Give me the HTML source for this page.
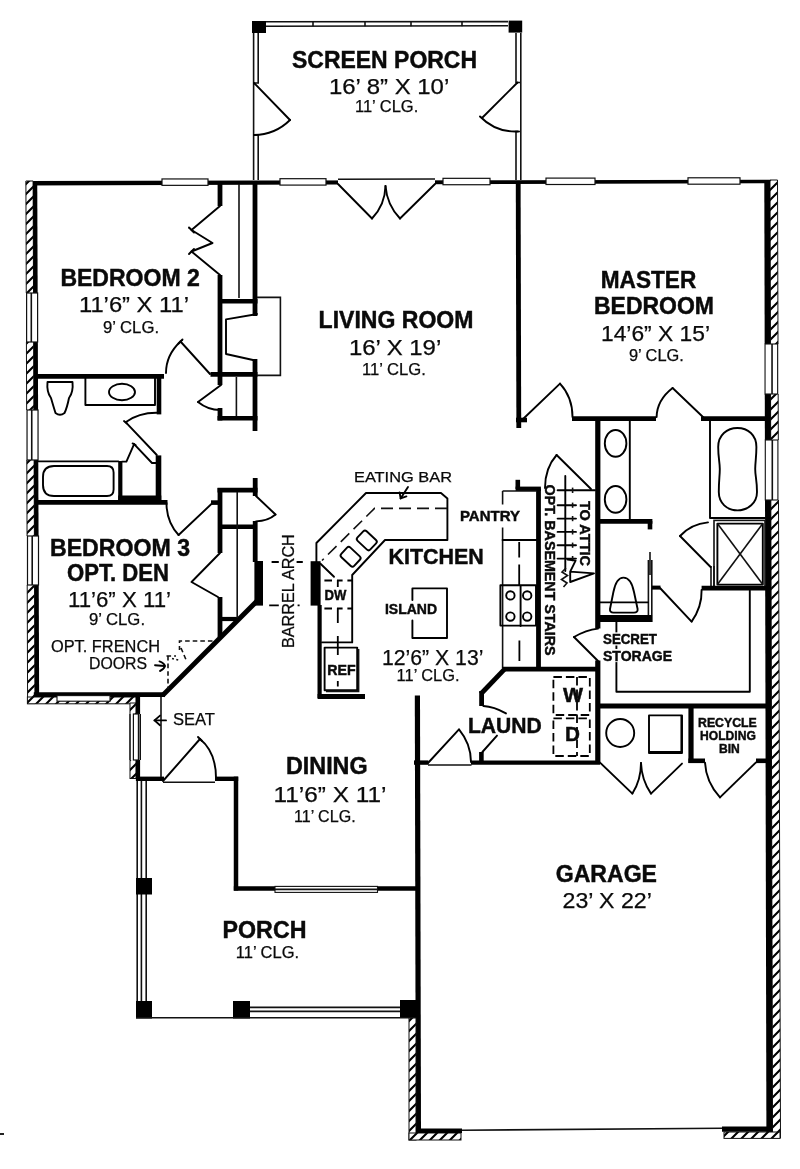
<!DOCTYPE html>
<html lang="en">
<head>
<meta charset="utf-8">
<title>Floor Plan</title>
<style>
html,body{margin:0;padding:0;background:#fff;}
body{width:800px;height:1169px;overflow:hidden;}
svg{display:block;filter:grayscale(1);}
.w line{stroke:#000;}
.k{fill:#000;stroke:none;}
.t{fill:none;stroke:#111;stroke-width:1.6;}
.d{fill:none;stroke:#000;stroke-width:1.9;stroke-linejoin:round;stroke-linecap:round;}
.dw{fill:none;stroke:#000;stroke-width:1.8;}
.tx text{font-family:"Liberation Sans",sans-serif;fill:#0a0a0a;}
.b{font-weight:700;stroke:#0a0a0a;stroke-width:0.45;}
.r{font-weight:400;stroke:#0a0a0a;stroke-width:0.25;}
</style>
</head>
<body>
<svg width="800" height="1169" viewBox="0 0 800 1169">
<defs>
<pattern id="h" patternUnits="userSpaceOnUse" width="10" height="10">
<rect width="10" height="10" fill="#fff"/>
<path d="M-2 2 L2 -2 M0 10 L10 0 M8 12 L12 8" stroke="#000" stroke-width="2.1"/>
</pattern>
</defs>
<rect width="800" height="1169" fill="#fff"/>
<g class="w">
<rect x="252" y="21" width="14" height="12" class="k"/>
<rect x="508.6" y="20.6" width="13.6" height="12" class="k"/>
<path d="M266 21.8 L508 21.6" class="t"/>
<path d="M266 26.2 L508 25.8" class="t"/>
<path d="M313 21.8 L313 26.2" class="t"/>
<path d="M365 21.8 L365 26.2" class="t"/>
<path d="M411 21.8 L411 26.2" class="t"/>
<path d="M462 21.8 L462 26.2" class="t"/>
<path d="M253.6 33 L253.6 180" class="t"/>
<path d="M258.2 33 L258.2 83 L254 83" class="t"/>
<path d="M258.2 180 L258.2 135 L254 135" class="t"/>
<path d="M254 83 L290 120" class="d"/>
<path d="M290 120 A52 52 0 0 1 254 135" class="d"/>
<path d="M520.8 33 L520.8 180" class="t"/>
<path d="M516 33 L516 82.5 L521 82.5" class="t"/>
<path d="M516 180 L516 131.5 L521 131.5" class="t"/>
<path d="M517.5 82.5 L482 118" class="d"/>
<path d="M480 116.5 A50 50 0 0 0 518 131.5" class="d"/>
<path d="M25.9 180.9 L770 179.8 L770 183.3 L25.9 185.4 Z" fill="#000"/>
<rect x="162" y="178.95" width="46" height="6.4" fill="#fff" stroke="#111" stroke-width="1.2"/>
<rect x="280" y="178.69" width="46" height="6.4" fill="#fff" stroke="#111" stroke-width="1.2"/>
<rect x="443" y="178.33" width="47" height="6.4" fill="#fff" stroke="#111" stroke-width="1.2"/>
<rect x="546" y="178.10" width="49" height="6.4" fill="#fff" stroke="#111" stroke-width="1.2"/>
<rect x="688" y="177.79" width="52" height="6.4" fill="#fff" stroke="#111" stroke-width="1.2"/>
<rect x="338" y="178" width="97" height="8" fill="#fff" stroke="none"/>
<path d="M338 179.2 L435 179" class="t"/>
<path d="M338 184 L372 218.5" class="d"/>
<path d="M435 184 L400 218.5" class="d"/>
<path d="M372 218.5 Q385 205 385.5 186" class="d"/>
<path d="M400 218.5 Q387 205 385.5 186" class="d"/>
<path d="M25.9 181 L33.1 181 L35 703.6 L27.6 703.6 Z" fill="url(#h)" stroke="#111" stroke-width="1"/>
<line x1="35.1" y1="181.5" x2="37" y2="697" stroke-width="4.3" stroke-linecap="butt"/>
<rect x="24.90505" y="293" width="14.6" height="49" fill="#fff" stroke="none"/>
<rect x="26.61" y="293" width="11" height="49" fill="#fff" stroke="#111" stroke-width="1.2"/>
<path d="M31.30505 293 L31.30505 342" class="t"/>
<rect x="25.3398" y="410" width="14.6" height="50" fill="#fff" stroke="none"/>
<rect x="27.04" y="410" width="11" height="50" fill="#fff" stroke="#111" stroke-width="1.2"/>
<path d="M31.739800000000002 410 L31.739800000000002 460" class="t"/>
<rect x="25.80415" y="536" width="14.6" height="49" fill="#fff" stroke="none"/>
<rect x="27.50" y="536" width="11" height="49" fill="#fff" stroke="#111" stroke-width="1.2"/>
<path d="M32.20415 536 L32.20415 585" class="t"/>
<path d="M770 180 L777.5 180 L780.5 1138 L772.5 1138 Z" fill="url(#h)" stroke="#111" stroke-width="1"/>
<path d="M764.3 180 L770 180 L772.6 1132 L766.4 1132 Z" fill="#000" stroke="none"/>
<rect x="763.9428" y="344" width="15" height="50" fill="#fff" stroke="none"/>
<rect x="765.0428" y="344" width="12.6" height="50" fill="#fff" stroke="#111" stroke-width="1.1"/>
<path d="M772.0428 344 L772.0428 394" class="t"/>
<rect x="764.202" y="440" width="15" height="60" fill="#fff" stroke="none"/>
<rect x="765.302" y="440" width="12.6" height="60" fill="#fff" stroke="#111" stroke-width="1.1"/>
<path d="M772.302 440 L772.302 500" class="t"/>
<rect x="27.4" y="697" width="108.6" height="6.8" fill="url(#h)" stroke="#111" stroke-width="1"/>
<line x1="33.8" y1="694.6" x2="165" y2="694.6" stroke-width="4.6" stroke-linecap="butt"/>
<rect x="57" y="695.6" width="53" height="5.6" fill="#fff" stroke="#111" stroke-width="1.1"/>
<rect x="130" y="703" width="6" height="75.5" fill="url(#h)" stroke="#111" stroke-width="1"/>
<line x1="138" y1="697" x2="138" y2="781" stroke-width="4.2" stroke-linecap="butt"/>
<rect x="129" y="714" width="12" height="46" fill="#fff" stroke="none"/>
<rect x="133.4" y="714" width="5" height="46" fill="#fff" stroke="#111" stroke-width="1.2"/>
<path d="M130 714 L130 760" class="t"/>
<path d="M140.2 714 L140.2 760" class="t"/>
<line x1="136" y1="778.8" x2="164" y2="778.8" stroke-width="4.4" stroke-linecap="butt"/>
<path d="M161 697 L161 777" class="t"/>
<line x1="162.5" y1="695.5" x2="259" y2="599" stroke-width="4.8" stroke-linecap="butt"/>
<line x1="215" y1="778.8" x2="238.2" y2="778.8" stroke-width="4.4" stroke-linecap="butt"/>
<line x1="236" y1="776.6" x2="236" y2="890.6" stroke-width="4.5" stroke-linecap="butt"/>
<line x1="233.8" y1="888.4" x2="420" y2="888.4" stroke-width="4.5" stroke-linecap="butt"/>
<rect x="275" y="886.4" width="102.5" height="6" fill="#fff" stroke="#111" stroke-width="1.1"/>
<path d="M275 889.4 L377 889.4" class="t"/>
<path d="M163 781 L200 739" class="d"/>
<path d="M200 739 Q216 752 216 778" class="d"/>
<path d="M163 782.2 L215 782.2" class="t"/>
<path d="M198 737 L202 741" class="d"/>
<path d="M137.2 781 L137.2 1017" class="t"/>
<path d="M141.4 781 L141.4 1017" class="t"/>
<path d="M146.2 781 L146.2 1017" class="t"/>
<rect x="136" y="878" width="16" height="16.5" class="k"/>
<rect x="136" y="1001" width="16" height="17.5" class="k"/>
<rect x="233" y="1001" width="17" height="17.5" class="k"/>
<rect x="400" y="1000" width="16" height="17.5" class="k"/>
<path d="M136 1017.8 L416 1017.8" class="t"/>
<path d="M250 1007.4 L400 1007.4" class="t"/>
<path d="M250 1011.4 L400 1011.4" class="t"/>
<line x1="417.4" y1="695.6" x2="418.4" y2="1133" stroke-width="5.2" stroke-linecap="butt"/>
<rect x="409" y="1018" width="7" height="122" fill="url(#h)" stroke="#111" stroke-width="1"/>
<rect x="409" y="1133" width="52" height="7" fill="url(#h)" stroke="#111" stroke-width="1"/>
<line x1="416" y1="1130.8" x2="462" y2="1130.8" stroke-width="4.6" stroke-linecap="butt"/>
<path d="M462 1130.2 L722 1128.2" class="t"/>
<line x1="722" y1="1129.2" x2="772" y2="1129.2" stroke-width="5.2" stroke-linecap="butt"/>
<rect x="724" y="1132" width="56" height="6.4" fill="url(#h)" stroke="#111" stroke-width="1"/>
<line x1="220" y1="184" x2="220" y2="206" stroke-width="4.8" stroke-linecap="butt"/>
<line x1="220" y1="275" x2="220" y2="385" stroke-width="4.8" stroke-linecap="butt"/>
<line x1="255" y1="184" x2="255" y2="316" stroke-width="4.8" stroke-linecap="butt"/>
<line x1="255" y1="359" x2="255" y2="431" stroke-width="4.8" stroke-linecap="butt"/>
<line x1="220" y1="301.2" x2="257.5" y2="301.2" stroke-width="4.6" stroke-linecap="butt"/>
<line x1="210.5" y1="374.4" x2="257.5" y2="374.4" stroke-width="4.8" stroke-linecap="butt"/>
<path d="M239 184 L239 298" class="t"/>
<path d="M220 206 L191.5 230 L212.5 243 L191.5 251.5 L220 275" class="d"/>
<path d="M189 227.5 L194 232.5" class="d"/>
<path d="M189 254 L194 249" class="d"/>
<path d="M257 314 L226 319.4 L226 354 L253 360" class="d"/>
<path d="M257 297.4 L280.4 297.4 L280.4 375.4 L257 375.4" class="t"/>
<line x1="220" y1="408" x2="220" y2="420.5" stroke-width="4.8" stroke-linecap="butt"/>
<line x1="217.5" y1="418.2" x2="257.5" y2="418.2" stroke-width="4.6" stroke-linecap="butt"/>
<path d="M236.4 377 L236.4 416" class="t"/>
<path d="M221 385 L198 402" class="d"/>
<path d="M198 402 Q208 410 220 410" class="d"/>
<path d="M210 374 L180.5 341.5" class="d"/>
<path d="M180.5 341.5 Q166 355 166 373" class="d"/>
<path d="M178.5 343.5 L182.5 339.5" class="d"/>
<line x1="37" y1="376.4" x2="164" y2="376.4" stroke-width="4.6" stroke-linecap="butt"/>
<line x1="159" y1="374.2" x2="159" y2="414.4" stroke-width="4.6" stroke-linecap="butt"/>
<line x1="158.5" y1="455.4" x2="158.5" y2="503" stroke-width="5.6" stroke-linecap="butt"/>
<line x1="37" y1="502.3" x2="167.5" y2="502.3" stroke-width="4.8" stroke-linecap="butt"/>
<rect x="118.2" y="495.5" width="43.1" height="5" class="k"/>
<line x1="120.3" y1="461" x2="120.3" y2="500" stroke-width="4.2" stroke-linecap="butt"/>
<path d="M47.5 382 L72.5 382 Q73.5 392 69 398 Q67 408 64.5 413 Q60 416.5 55.5 413 Q53 405 51 398 Q46.5 392 47.5 382 Z" class="d"/>
<path d="M85.4 378 L85.4 405 L155 405 L155 378" class="d"/>
<ellipse cx="122" cy="392" rx="13" ry="8.2" class="d"/>
<path d="M156.8 455 L125.6 422.2" class="d"/>
<path d="M125.6 422.2 Q139 412.6 157 412.8" class="d"/>
<path d="M124 421 L127 423.4" class="d"/>
<path d="M134.1 444.2 L126.4 461.6 L122 461.6" class="d"/>
<path d="M134.1 444.2 L152 463 L156.5 463" class="d"/>
<path d="M132.6 443.4 L135.6 445" class="d"/>
<path d="M37 461.4 L118.4 461.4" class="d"/>
<path d="M54 466 L107 466 Q113.6 466 113.6 472.5 L113.6 489.5 Q113.6 496 107 496 L54 496 Q43 496 43 485 L43 477 Q43 466 54 466 Z" class="d"/>
<line x1="217.5" y1="490.2" x2="257.5" y2="490.2" stroke-width="4.8" stroke-linecap="butt"/>
<line x1="220" y1="488" x2="220" y2="553" stroke-width="4.8" stroke-linecap="butt"/>
<line x1="220" y1="597" x2="220" y2="637" stroke-width="4.8" stroke-linecap="butt"/>
<line x1="255.2" y1="478" x2="255.2" y2="496" stroke-width="4.8" stroke-linecap="butt"/>
<line x1="255.2" y1="521" x2="255.2" y2="562" stroke-width="4.8" stroke-linecap="butt"/>
<line x1="220" y1="526.8" x2="257" y2="526.8" stroke-width="4.6" stroke-linecap="butt"/>
<line x1="220" y1="619" x2="238" y2="619" stroke-width="4.2" stroke-linecap="butt"/>
<path d="M237.2 492 L237.2 618" class="t"/>
<rect x="254.4" y="561" width="8.6" height="44.6" class="k"/>
<rect x="310.6" y="561.2" width="10" height="44.4" class="k"/>
<line x1="211" y1="502.6" x2="218" y2="502.6" stroke-width="4.6" stroke-linecap="butt"/>
<path d="M213 502.5 L178.6 535" class="d"/>
<path d="M178.6 535 Q166.5 522 166.5 503" class="d"/>
<path d="M256 496 L275.5 514.5" class="d"/>
<path d="M275.5 514.5 Q268 521 256 521.4" class="d"/>
<path d="M220 553 L191.5 582 L218 597" class="d"/>
<path d="M271.6 562 L278.8 562 M296.6 562 L302.8 562 M269.2 605.4 L278.8 605.4 M297.6 605.4 L299.6 605.4" class="dw"/>
<path d="M212.5 641 L179.5 641 L179.5 650 M181 648 L187 662 M166.5 656 L176 656 M168 656 L168 689" class="t" stroke-dasharray="4.6 3" stroke-width="1.7"/>
<path d="M172 658.5 L180 660.5" class="t" stroke-dasharray="2 2.4" stroke-width="1.7"/>
<path d="M155 665.2 L164.5 666" class="d"/>
<path d="M159.5 661.4 Q164 663 165 666 Q164 669.4 160 671" class="d"/>
<path d="M154.5 720.4 L166 720.4" class="d"/>
<path d="M160 715.6 L154.5 720.4 L160 725.2" class="d"/>
<line x1="319.6" y1="605" x2="319.6" y2="698" stroke-width="4.2" stroke-linecap="butt"/>
<line x1="317.6" y1="696.4" x2="365" y2="696.4" stroke-width="5" stroke-linecap="butt"/>
<path d="M316.4 562 L316.4 543 L366 493 L441 493 L447.4 498.5 L447.4 540 L385 540 L352.2 575 L352.2 642.4 L322 642.4" class="d"/>
<path d="M447 508.4 L374.5 508.4 L322 560.5" class="t" stroke-dasharray="12 6" stroke-width="1.5"/>
<rect x="-8.8" y="-6.6" width="17.6" height="13.2" rx="2.4" class="d" transform="translate(366.8 540.4) rotate(43)"/>
<rect x="-8.8" y="-6.6" width="17.6" height="13.2" rx="2.4" class="d" transform="translate(350.6 556.8) rotate(43)"/>
<path d="M320.5 563.8 L334 576.8" class="d"/>
<path d="M324.4 580.5 L332 580.5 M337 580.5 L342.6 580.5 M347.4 580.5 L352 580.5" class="dw"/>
<path d="M324.4 608.5 L332 608.5 M337 608.5 L342.6 608.5 M347.4 608.5 L352 608.5" class="dw"/>
<path d="M337.8 580 L337.8 587 M337.8 608 L337.8 623 M337.8 636 L337.8 655 M337.8 681 L337.8 686.6" class="dw"/>
<rect x="324.6" y="647.6" width="32.6" height="42.6" class="d"/>
<path d="M358.6 649 L358.6 691.4 L326 691.4" class="t"/>
<path d="M412.4 600 L412.4 588.4 L447 588.4 L447 638 L412.4 638 L412.4 620.5" class="d"/>
<path d="M408 487 L400.6 498.4" class="d"/>
<path d="M399.6 492.4 L400.6 498.4 L406.4 496.4" class="d"/>
<line x1="538.5" y1="488.6" x2="538.5" y2="669.6" stroke-width="4.8" stroke-linecap="butt"/>
<line x1="515.6" y1="488.8" x2="540.9" y2="488.8" stroke-width="4.4" stroke-linecap="butt"/>
<line x1="517.8" y1="479.8" x2="517.8" y2="489" stroke-width="4.6" stroke-linecap="butt"/>
<path d="M502.6 491 L536.6 491" class="t"/>
<path d="M502.6 491 L502.6 668.4" class="t"/>
<path d="M502.6 540 L536.6 540" class="d"/>
<path d="M519.2 542 L519.2 557.6 M519.2 564.6 L519.2 585 M519.4 640.4 L519.4 661" class="dw"/>
<rect x="500.4" y="585.2" width="35.6" height="40.4" fill="#fff" class="d"/>
<circle cx="510.4" cy="595.4" r="4.2" class="d"/>
<circle cx="510.4" cy="616.6" r="4.2" class="d"/>
<circle cx="527.2" cy="595.4" r="4.2" class="d"/>
<circle cx="527.2" cy="616.6" r="4.2" class="d"/>
<path d="M520.6 586 L520.6 626" class="d"/>
<path d="M565.3 476 L565.3 571" class="d"/>
<path d="M557.6 490.3 L595 490.3" class="d"/>
<path d="M557.6 505.2 L576 505.2" class="d"/>
<path d="M572.6 502.59999999999997 L572.6 507.8" class="t"/>
<path d="M557.6 518.6 L576 518.6" class="d"/>
<path d="M572.6 516.0 L572.6 521.2" class="t"/>
<path d="M557.6 531.9 L576 531.9" class="d"/>
<path d="M572.6 529.3 L572.6 534.5" class="t"/>
<path d="M557.6 545.2 L576 545.2" class="d"/>
<path d="M572.6 542.6 L572.6 547.8000000000001" class="t"/>
<path d="M557.6 558.6 L576 558.6" class="d"/>
<path d="M572.6 556.0 L572.6 561.2" class="t"/>
<path d="M572.6 487.6 L572.6 493" class="t"/>
<path d="M566 568 L562 572 L567.5 575.5 L561.5 579.5 L567 583 L563.5 587" class="t"/>
<path d="M567.5 559.5 L575.6 560.6 L570.2 571.6 L570.2 582 L594 573.4 L570.2 571.6" class="d"/>
<path d="M591 489 L556.6 455" class="d"/>
<path d="M556.6 455 Q545 468 545 488" class="d"/>
<line x1="518.2" y1="183" x2="518.8" y2="428" stroke-width="4.8" stroke-linecap="butt"/>
<line x1="516" y1="420" x2="527" y2="420" stroke-width="4.6" stroke-linecap="butt"/>
<path d="M522 420 L560 383.6" class="d"/>
<path d="M560 383.6 Q572.5 397 572.5 417" class="d"/>
<line x1="572" y1="418.6" x2="656" y2="418.6" stroke-width="4.6" stroke-linecap="butt"/>
<line x1="701" y1="418.6" x2="768" y2="418.6" stroke-width="4.6" stroke-linecap="butt"/>
<path d="M656.6 417 Q657 400 672.6 388" class="d"/>
<path d="M672.6 388 L703.5 417.5" class="d"/>
<line x1="597.8" y1="418.6" x2="597.8" y2="628.4" stroke-width="5.2" stroke-linecap="butt"/>
<line x1="597.8" y1="660.5" x2="597.8" y2="764" stroke-width="5.2" stroke-linecap="butt"/>
<path d="M629.8 421 L629.8 519.4" class="d"/>
<ellipse cx="615.6" cy="443.4" rx="10.8" ry="13.4" class="d"/>
<ellipse cx="615.6" cy="499.4" rx="10.8" ry="13.4" class="d"/>
<line x1="598" y1="521.4" x2="652.4" y2="521.4" stroke-width="4.6" stroke-linecap="butt"/>
<line x1="650" y1="521" x2="650" y2="529.4" stroke-width="4.6" stroke-linecap="butt"/>
<path d="M710 421 L710 518 L765 518" class="d"/>
<path d="M737.4 428 C748 428 756.4 435 756.4 447 C756.4 458 755.2 462 755.2 469 C755.2 476 757 480 757 492 C757 503 748 510.4 737.6 510.4 C727 510.4 718.8 503 718.8 492 C718.8 480 719.8 476 719.8 469 C719.8 462 718.2 458 718.2 447 C718.2 435 727 428 737.4 428 Z" class="d"/>
<rect x="714" y="520.4" width="51" height="66.6" class="t"/>
<rect x="717.4" y="523.6" width="45.4" height="61" class="d"/>
<path d="M717.4 523.6 L762.8 584.6" class="t"/>
<path d="M762.8 523.6 L717.4 584.6" class="t"/>
<path d="M711 566 L711 587" class="t"/>
<path d="M714 566 L714 587" class="t"/>
<path d="M710.6 567 L680 536" class="d"/>
<path d="M680 536 Q691 524 708 522.4" class="d"/>
<line x1="701.6" y1="588.2" x2="766" y2="588.2" stroke-width="4.8" stroke-linecap="butt"/>
<line x1="598" y1="618.6" x2="652.6" y2="618.6" stroke-width="7" stroke-linecap="butt"/>
<path d="M648.4 560 L648.4 615" class="t"/>
<path d="M651.8 560 L651.8 615" class="t"/>
<path d="M650 552 L650 575" class="t"/>
<path d="M600 602.4 L648 602.4" class="d"/>
<path d="M623.4 577.6 C629 577.6 632.4 584 634 592 L637.6 609 Q638 612.6 634 612.6 L613.4 612.6 Q609.6 612.6 610 609 L613.4 592 C615 584 618 577.6 623.4 577.6 Z" class="d"/>
<line x1="652" y1="587.6" x2="660.5" y2="587.6" stroke-width="4" stroke-linecap="butt"/>
<path d="M660 588 L691.6 621.6" class="d"/>
<path d="M691.6 621.6 Q702 607 701.6 590" class="d"/>
<path d="M616.4 622 L616.4 691.8 L749.8 691.8 L749.8 590.4" class="d"/>
<path d="M598 661 L574 637" class="d"/>
<path d="M574 637 Q586 630 598 628.6" class="d"/>
<line x1="598" y1="706" x2="766.4" y2="706" stroke-width="4.8" stroke-linecap="butt"/>
<line x1="691" y1="706" x2="691" y2="763" stroke-width="5.2" stroke-linecap="butt"/>
<line x1="688.4" y1="760.8" x2="705" y2="760.8" stroke-width="4.6" stroke-linecap="butt"/>
<line x1="756" y1="760.8" x2="767" y2="760.8" stroke-width="4.6" stroke-linecap="butt"/>
<circle cx="620.2" cy="733" r="14" class="d"/>
<rect x="649" y="715.4" width="33" height="37.6" class="d"/>
<path d="M650 752 L681.4 752 L681.4 716" class="d"/>
<path d="M600 762.6 L632.4 793.6" class="d"/>
<path d="M632.4 793.6 Q641 780 641 763" class="d"/>
<path d="M682 763.6 L651 793.6" class="d"/>
<path d="M651 793.6 Q641.6 780 641 763" class="d"/>
<path d="M705 762.6 Q706 782 720 797.4" class="d"/>
<path d="M720 797.4 L756 762.4" class="d"/>
<line x1="414" y1="762.6" x2="428.4" y2="762.6" stroke-width="4.4" stroke-linecap="butt"/>
<line x1="471" y1="762.6" x2="600" y2="762.6" stroke-width="4.4" stroke-linecap="butt"/>
<line x1="481.4" y1="752" x2="481.4" y2="763" stroke-width="4.6" stroke-linecap="butt"/>
<line x1="481.6" y1="691" x2="481.6" y2="706" stroke-width="4.8" stroke-linecap="butt"/>
<line x1="480.8" y1="694" x2="504.6" y2="669.2" stroke-width="4.8" stroke-linecap="butt"/>
<line x1="502.6" y1="669.2" x2="600" y2="669.2" stroke-width="4.8" stroke-linecap="butt"/>
<path d="M428 763 L459 729.4" class="d"/>
<path d="M428 765 L471.5 765" class="t"/>
<path d="M459 729.4 Q471 744 471 762" class="d"/>
<path d="M482.4 752 L497 735.6" class="d"/>
<path d="M483.4 706 Q494 706.6 506 713.4" class="d"/>
<rect x="553.4" y="677" width="36.4" height="38" class="dw" stroke-dasharray="8.5 4" stroke-width="1.7"/>
<rect x="553.4" y="718.4" width="36.4" height="37.6" class="dw" stroke-dasharray="8.5 4" stroke-width="1.7"/>
<path d="M577 677 L577 756" class="dw" stroke-dasharray="8.5 4" stroke-width="1.7"/>
</g>
<g class="tx">
<text x="292.0" y="67.6" font-size="23.2" class="b" textLength="185.01" lengthAdjust="spacingAndGlyphs">SCREEN PORCH</text>
<text x="328.94" y="93.8" font-size="22.4" class="r" textLength="120.31" lengthAdjust="spacingAndGlyphs">16’ 8” X 10’</text>
<text x="354.96" y="112.3" font-size="15.7" class="r" textLength="63.32" lengthAdjust="spacingAndGlyphs">11’ CLG.</text>
<text x="60.39" y="286" font-size="23.2" class="b" textLength="139.41" lengthAdjust="spacingAndGlyphs">BEDROOM 2</text>
<text x="78.94" y="311.6" font-size="22.4" class="r" textLength="110.09" lengthAdjust="spacingAndGlyphs">11’6” X 11’</text>
<text x="102.95" y="332.5" font-size="15.7" class="r" textLength="56.12" lengthAdjust="spacingAndGlyphs">9’ CLG.</text>
<text x="318.59" y="327.8" font-size="23.2" class="b" textLength="154.82" lengthAdjust="spacingAndGlyphs">LIVING ROOM</text>
<text x="348.92" y="354.8" font-size="22.4" class="r" textLength="92.35" lengthAdjust="spacingAndGlyphs">16’ X 19’</text>
<text x="361.96" y="375" font-size="15.7" class="r" textLength="63.9" lengthAdjust="spacingAndGlyphs">11’ CLG.</text>
<text x="600.79" y="288.2" font-size="23.2" class="b" textLength="95.42" lengthAdjust="spacingAndGlyphs">MASTER</text>
<text x="593.98" y="314" font-size="23.2" class="b" textLength="120.03" lengthAdjust="spacingAndGlyphs">BEDROOM</text>
<text x="600.98" y="341.4" font-size="22.4" class="r" textLength="109.04" lengthAdjust="spacingAndGlyphs">14’6” X 15’</text>
<text x="628.95" y="360.6" font-size="15.7" class="r" textLength="54.92" lengthAdjust="spacingAndGlyphs">9’ CLG.</text>
<text x="49.99" y="556.2" font-size="23.2" class="b" textLength="140.03" lengthAdjust="spacingAndGlyphs">BEDROOM 3</text>
<text x="66.98" y="581.2" font-size="23.2" class="b" textLength="102.04" lengthAdjust="spacingAndGlyphs">OPT. DEN</text>
<text x="67.98" y="607" font-size="22" class="r" textLength="103.04" lengthAdjust="spacingAndGlyphs">11’6” X 11’</text>
<text x="88.96" y="625.4" font-size="15.7" class="r" textLength="56.08" lengthAdjust="spacingAndGlyphs">9’ CLG.</text>
<text x="50.98" y="652.4" font-size="16" class="r" textLength="109.04" lengthAdjust="spacingAndGlyphs">OPT. FRENCH</text>
<text x="88.96" y="669" font-size="16" class="r" textLength="58.07" lengthAdjust="spacingAndGlyphs">DOORS</text>
<text x="172.97" y="725.4" font-size="16" class="r" textLength="42.02" lengthAdjust="spacingAndGlyphs">SEAT</text>
<text x="353.98" y="481.8" font-size="15.5" class="r" textLength="98.04" lengthAdjust="spacingAndGlyphs">EATING BAR</text>
<rect x="499" y="504.5" width="8" height="23" fill="#fff" stroke="none"/>
<rect x="458.48" y="508.86" width="63.02" height="13.64" fill="#fff"/>
<text x="459.98" y="521" font-size="15.2" class="b" textLength="60.02" lengthAdjust="spacingAndGlyphs">PANTRY</text>
<text x="388.57" y="564.4" font-size="21.8" class="b" textLength="95.28" lengthAdjust="spacingAndGlyphs">KITCHEN</text>
<text x="384.98" y="614" font-size="14.5" class="b" textLength="52.02" lengthAdjust="spacingAndGlyphs">ISLAND</text>
<text x="324.58" y="600.4" font-size="14.2" class="b" textLength="21.81" lengthAdjust="spacingAndGlyphs">DW</text>
<text x="327.34" y="675" font-size="14.6" class="b" textLength="28.3" lengthAdjust="spacingAndGlyphs">REF</text>
<text x="381.98" y="665" font-size="21.4" class="r" textLength="101.45" lengthAdjust="spacingAndGlyphs">12’6” X 13’</text>
<text x="396.57" y="680.8" font-size="15.7" class="r" textLength="63.07" lengthAdjust="spacingAndGlyphs">11’ CLG.</text>
<rect x="601.5" y="632.35" width="57.0" height="13.15" fill="#fff"/>
<text x="603.0" y="644" font-size="14.5" class="b" textLength="54.0" lengthAdjust="spacingAndGlyphs">SECRET</text>
<rect x="601.5" y="648.95" width="72.0" height="13.15" fill="#fff"/>
<text x="603.0" y="660.6" font-size="14.5" class="b" textLength="69.0" lengthAdjust="spacingAndGlyphs">STORAGE</text>
<text x="467.98" y="732.8" font-size="21.8" class="b" textLength="73.83" lengthAdjust="spacingAndGlyphs">LAUND</text>
<text x="563.0" y="702" font-size="21" class="b" textLength="20.0" lengthAdjust="spacingAndGlyphs">W</text>
<text x="564.88" y="741" font-size="21" class="b" textLength="14.96" lengthAdjust="spacingAndGlyphs">D</text>
<text x="698.0" y="727" font-size="13" class="b" textLength="58.8" lengthAdjust="spacingAndGlyphs">RECYCLE</text>
<text x="700.0" y="740" font-size="13" class="b" textLength="55.8" lengthAdjust="spacingAndGlyphs">HOLDING</text>
<text x="719.0" y="752.6" font-size="13" class="b" textLength="20.81" lengthAdjust="spacingAndGlyphs">BIN</text>
<text x="285.98" y="774.2" font-size="23.2" class="b" textLength="81.64" lengthAdjust="spacingAndGlyphs">DINING</text>
<text x="273.54" y="802.2" font-size="22.4" class="r" textLength="112.91" lengthAdjust="spacingAndGlyphs">11’6” X 11’</text>
<text x="293.97" y="822.4" font-size="15.7" class="r" textLength="61.66" lengthAdjust="spacingAndGlyphs">11’ CLG.</text>
<text x="555.78" y="881.8" font-size="23.2" class="b" textLength="101.23" lengthAdjust="spacingAndGlyphs">GARAGE</text>
<text x="562.57" y="907.8" font-size="22.4" class="r" textLength="89.28" lengthAdjust="spacingAndGlyphs">23’ X 22’</text>
<text x="222.57" y="938" font-size="23.2" class="b" textLength="83.87" lengthAdjust="spacingAndGlyphs">PORCH</text>
<text x="235.76" y="958.2" font-size="15.7" class="r" textLength="63.32" lengthAdjust="spacingAndGlyphs">11’ CLG.</text>
<rect x="-2.52" y="-12.98" width="116.85" height="14.48" fill="#fff" transform="translate(294.4 647) rotate(-90)"/>
<text x="-1.02" y="0" font-size="16.4" class="r" textLength="113.85" lengthAdjust="spacingAndGlyphs" transform="translate(294.4 647) rotate(-90)">BARREL ARCH</text>
<text x="0.0" y="0" font-size="15.2" class="b" textLength="171.0" lengthAdjust="spacingAndGlyphs" transform="translate(544.6 484.6) rotate(90)">OPT. BASEMENT STAIRS</text>
<text x="0.0" y="0" font-size="15.2" class="b" textLength="65.0" lengthAdjust="spacingAndGlyphs" transform="translate(579.6 501) rotate(90)">TO ATTIC</text>
</g>
<rect x="0" y="1133" width="4" height="2" fill="#222"/>
</svg>
</body>
</html>
